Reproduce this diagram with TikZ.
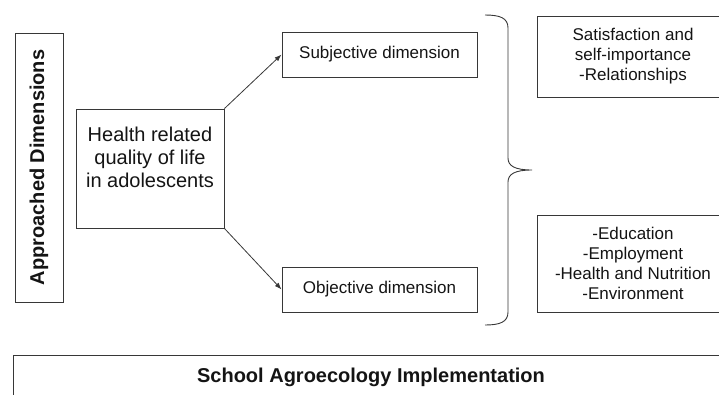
\documentclass[tikz,border=0pt]{standalone}
\usepackage{fontspec}
\setmainfont{Liberation Sans}
\usetikzlibrary{arrows.meta}
\definecolor{LineCol}{RGB}{55,55,55}
\definecolor{TextCol}{RGB}{20,20,20}
\tikzset{
  adbox/.style={draw=LineCol, line width=0.9pt, inner sep=2pt, align=center, text=TextCol},
  adbig/.style={font=\fontsize{20}{23}\selectfont},
  adsmall/.style={font=\fontsize{17}{20}\selectfont},
  adhead/.style={font=\fontsize{20}{23}\selectfont\bfseries},
  adarrow/.style={-{Latex[length=7pt,width=5pt]}, line width=0.8pt, draw=LineCol},
  adbrace/.style={line width=0.9pt, draw=LineCol}
}

\begin{document}
\begin{tikzpicture}[x=1pt,y=-1pt]
  \useasboundingbox (0,0) rectangle (719,394);
  % side label and main box
  \node[adbox,adhead,rotate=90,minimum width=269pt,minimum height=48pt] (appr) at (39,167.5) {Approached Dimensions};
  \node[adbox,adbig,minimum width=148pt,minimum height=119pt] (hrql) at (150,168.5)
    {Health related\\quality of life\\in adolescents\\\mbox{}};
  % the two dimensions
  \node[adbox,adsmall,minimum width=195pt,minimum height=45pt] (subj) at (379.5,54.5) {Subjective dimension};
  \node[adbox,adsmall,minimum width=195pt,minimum height=45pt] (obj) at (379.5,289.5) {Objective dimension};
  \draw[adarrow] (hrql.north east) -- (subj.west);
  \draw[adarrow] (hrql.south east) -- (obj.west);
  % brace
  \draw[adbrace] (485,15) .. controls (500,15) and (508,18) .. (508,28) -- (508,158)
    .. controls (508,166) and (515,170) .. (532,170)
    .. controls (515,170) and (508,174) .. (508,182) -- (508,312)
    .. controls (508,322) and (500,325) .. (485,325);
  % what each dimension covers
  \node[adbox,adsmall,minimum width=192pt,minimum height=81pt] (sat) at (633,56.5)
    {Satisfaction and\\self-importance\\-Relationships};
  \node[adbox,adsmall,minimum width=192pt,minimum height=97pt] (edu) at (633,263.5)
    {-Education\\-Employment\\-Health and Nutrition\\-Environment};
  % bottom bar
  \node[adbox,adhead,minimum width=716pt,minimum height=44pt] (school) at (371,377) {School Agroecology Implementation};
\end{tikzpicture}
\end{document}
